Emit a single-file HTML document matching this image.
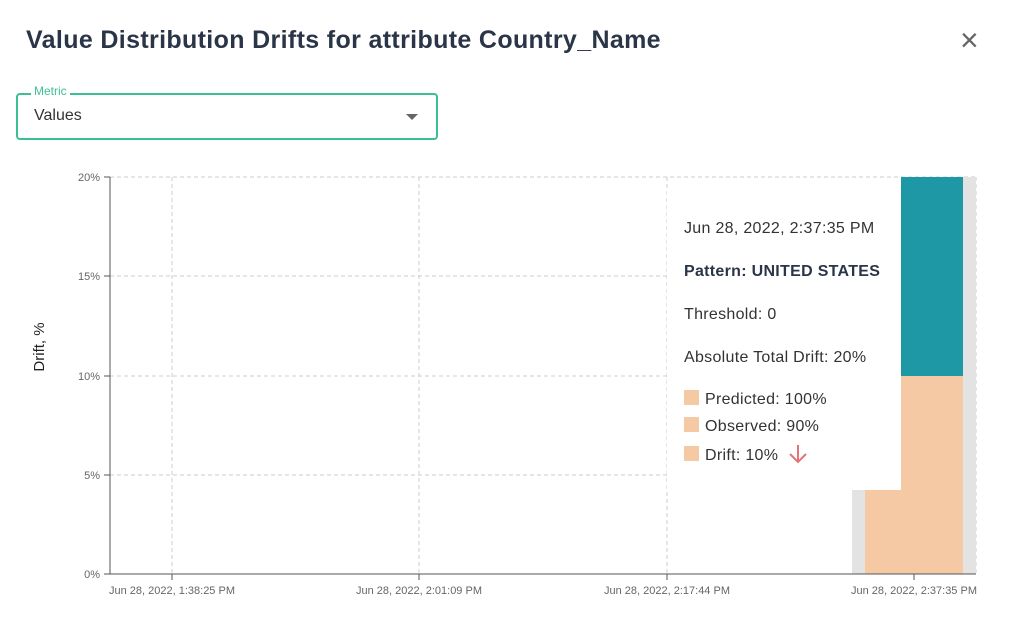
<!DOCTYPE html><html><head><style>
body{margin:0;width:1024px;height:629px;background:#fff;font-family:"Liberation Sans",sans-serif;position:relative;overflow:hidden}
.t{position:absolute;white-space:nowrap}
</style></head><body>
<div class="t" style="left:26px;top:26px;font-size:25px;letter-spacing:0.35px;font-weight:bold;color:#2b3548">Value Distribution Drifts for attribute Country_Name</div>
<div class="t" style="left:960px;top:22px;font-size:32px;color:#666">×</div>
<div style="position:absolute;left:16px;top:93px;width:418px;height:43px;border:2px solid #3dbf94;border-radius:4px"></div>
<div class="t" style="left:31px;top:84px;font-size:12px;color:#3dbf94;background:#fff;padding:0 3px">Metric</div>
<div class="t" style="left:34px;top:107px;font-size:16px;color:#333">Values</div>
<div style="position:absolute;left:406px;top:114px;border-left:6px solid transparent;border-right:6px solid transparent;border-top:6px solid #666"></div>
<svg width="1024" height="629" style="position:absolute;left:0;top:0" font-family="Liberation Sans" font-size="11" fill="#666">
<g stroke="#ccc" stroke-dasharray="4,3">
<line x1="110" y1="177" x2="976" y2="177"/><line x1="110" y1="276" x2="976" y2="276"/><line x1="110" y1="376" x2="976" y2="376"/><line x1="110" y1="475" x2="976" y2="475"/>
<line x1="172" y1="177" x2="172" y2="574"/><line x1="419" y1="177" x2="419" y2="574"/><line x1="667" y1="177" x2="667" y2="574"/><line x1="914" y1="177" x2="914" y2="574"/><line x1="976" y1="177" x2="976" y2="574"/>
</g>
<rect x="667" y="190" width="234" height="299" fill="#fff"/>
<rect x="852" y="490" width="13" height="84" fill="#e3e3e3"/>
<rect x="865" y="490" width="36" height="84" fill="#f5c9a3"/>
<rect x="901" y="376" width="62" height="198" fill="#f5c9a3"/>
<rect x="901" y="177" width="62" height="199" fill="#1f98a6"/>
<rect x="963" y="177" width="13" height="397" fill="#e3e3e3"/>
<g stroke="#555"><line x1="110" y1="177" x2="110" y2="574"/><line x1="110" y1="574" x2="976" y2="574"/>
<line x1="104" y1="177" x2="110" y2="177"/><line x1="104" y1="276" x2="110" y2="276"/><line x1="104" y1="376" x2="110" y2="376"/><line x1="104" y1="475" x2="110" y2="475"/><line x1="104" y1="574" x2="110" y2="574"/>
<line x1="172" y1="574" x2="172" y2="580"/><line x1="419" y1="574" x2="419" y2="580"/><line x1="667" y1="574" x2="667" y2="580"/><line x1="914" y1="574" x2="914" y2="580"/></g>
<g text-anchor="end"><text x="100" y="181">20%</text><text x="100" y="280">15%</text><text x="100" y="380">10%</text><text x="100" y="479">5%</text><text x="100" y="578">0%</text></g>
<g text-anchor="middle"><text x="172" y="594">Jun 28, 2022, 1:38:25 PM</text><text x="419" y="594">Jun 28, 2022, 2:01:09 PM</text><text x="667" y="594">Jun 28, 2022, 2:17:44 PM</text><text x="914" y="594">Jun 28, 2022, 2:37:35 PM</text></g>
<text transform="translate(44,347) rotate(-90)" text-anchor="middle" font-size="15" fill="#222">Drift, %</text>
<g font-size="16" fill="#333" letter-spacing="0.3"><text x="684" y="233">Jun 28, 2022, 2:37:35 PM</text><text x="684" y="276" font-weight="bold" fill="#2b3548">Pattern: UNITED STATES</text><text x="684" y="319">Threshold: 0</text><text x="684" y="362">Absolute Total Drift: 20%</text>
<rect x="684" y="390" width="15" height="15" fill="#f5c9a3"/><text x="705" y="404">Predicted: 100%</text>
<rect x="684" y="417" width="15" height="15" fill="#f5c9a3"/><text x="705" y="431">Observed: 90%</text>
<rect x="684" y="446" width="15" height="15" fill="#f5c9a3"/><text x="705" y="460">Drift: 10%</text></g>
<g stroke="#e57373" stroke-width="2" fill="none"><line x1="798" y1="445" x2="798" y2="461"/><polyline points="790,454 798,462 806,454"/></g>
</svg>
</body></html>
